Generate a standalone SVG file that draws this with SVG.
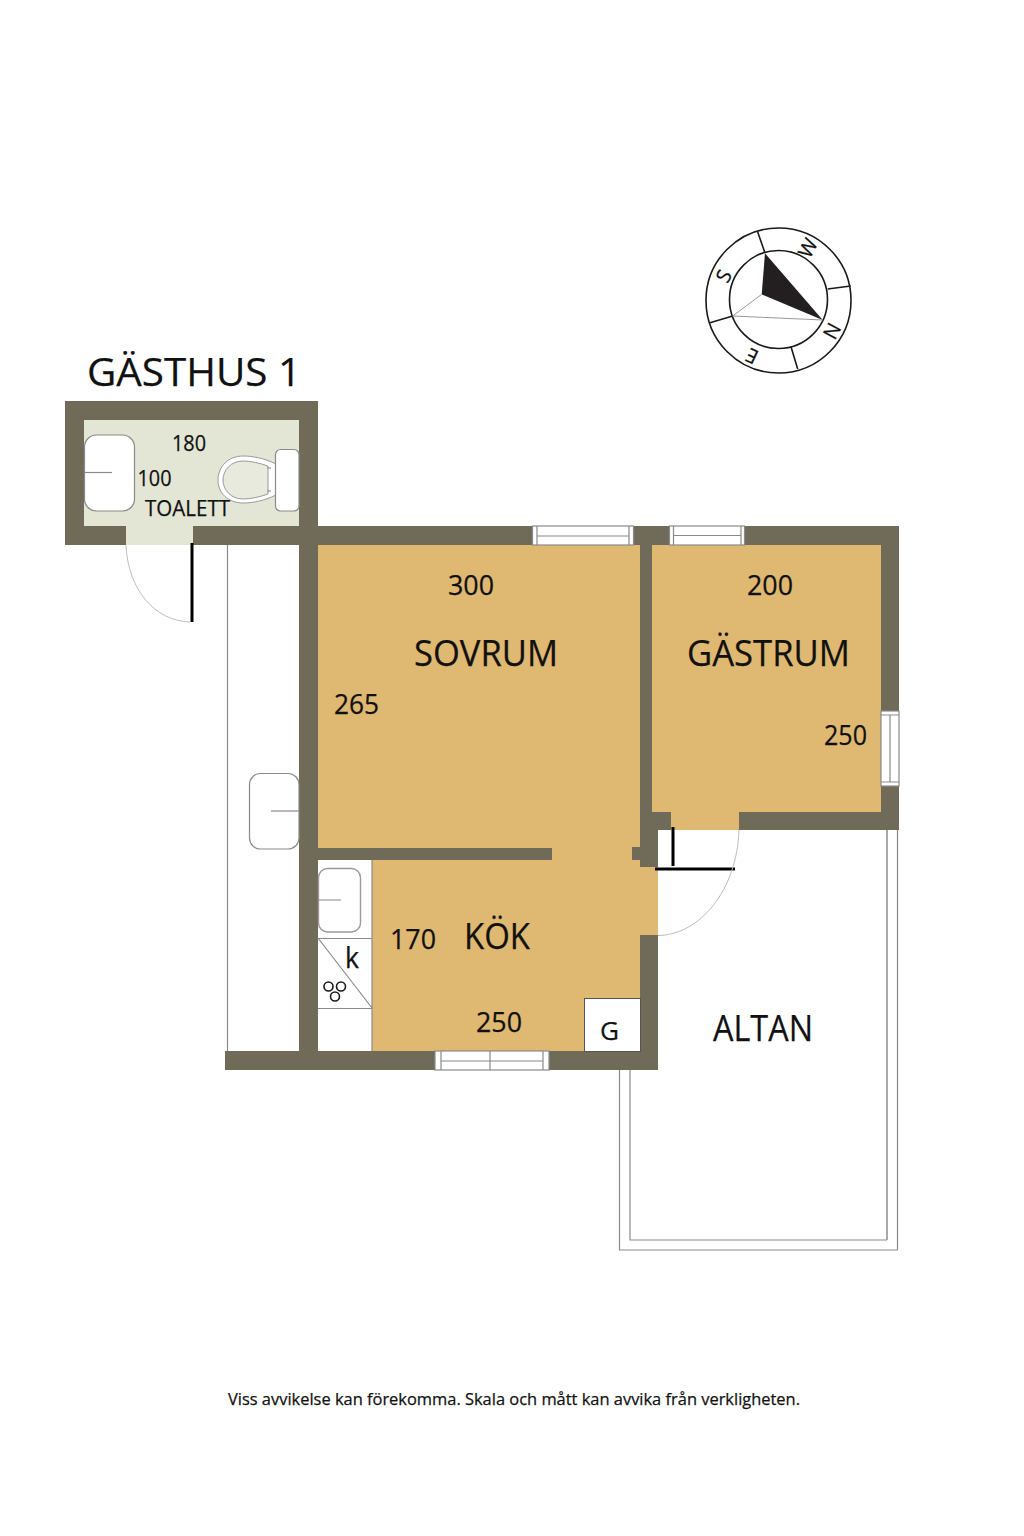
<svg xmlns="http://www.w3.org/2000/svg" width="1024" height="1536" viewBox="0 0 1024 1536">
<style>
text{font-family:"Open Sans","Noto Sans","Liberation Sans",sans-serif;fill:#111;stroke:#111;stroke-width:.25}
.w{fill:#6f6b58}
.f{fill:#dfb872}
.l{fill:none;stroke:#8a8a8a;stroke-width:1.2}
.o{fill:#fff;stroke:#8a8a8a;stroke-width:1.2}
.d{fill:none;stroke:#000;stroke-width:3}
.a{fill:none;stroke:#bdbdbd;stroke-width:1}
.c{fill:none;stroke:#1a1a1a;stroke-width:1.6}
</style>
<rect width="1024" height="1536" fill="#fff"/>
<g id="floors">
<rect x="84" y="420" width="215" height="106" fill="#e3e5d5"/>
<rect x="126" y="526" width="67" height="19" fill="#e3e5d5"/>
<rect x="318" y="545" width="322" height="315" class="f"/>
<rect x="372" y="860" width="268" height="191" class="f"/>
<rect x="640" y="867" width="18" height="68" class="f"/>
<rect x="652" y="545" width="229" height="267" class="f"/>
<rect x="671" y="812" width="68" height="18" class="f"/>
<rect x="318" y="860" width="54" height="191" fill="#fff"/>
</g>
<g id="walls">
<path class="w" d="M65 401H318V526H899V830H739V812H881V545H652V812H671V830H658V867H640V860H632V847H640V545H318V1051H640V935H658V1070H225V1051H299V545H193V526H299V420H84V526H126V545H65Z"/>
<rect x="318" y="848" width="234" height="12" class="w"/>
</g>
<g id="windows">
<rect x="532.500" y="526" width="101" height="19" class="o"/>
<path class="l" d="M537 526V545M629 526V545M537 536H629"/>
<rect x="669.500" y="526" width="75" height="19" class="o"/>
<path class="l" d="M673.500 526V545M741 526V545M673.500 535.500H741"/>
<rect x="881" y="711" width="18" height="75" class="o"/>
<path class="l" d="M881 715H899M881 782H899M890 715V782" />
<rect x="435" y="1051" width="114" height="19" class="o"/>
<path class="l" d="M441 1051V1070M490 1051V1070M543 1051V1070M441 1061H543"/>
</g>
<g id="fixtures">
<rect x="84.500" y="435" width="50" height="76" rx="12" class="o"/>
<path class="l" d="M85 472.500H112"/>
<path d="M276 464C264 458 252 456 243 456C228 456 218 467 218 480C218 493 228 503 243 503C252 503 264 501 276 495Z" fill="#fff" stroke="#9a9a9a"/>
<path d="M268 466C260 463 250 461 243 461C231 461 223 470 223 480C223 490 231 499 243 499C250 499 260 497 268 494Z" fill="#e9eade" stroke="#9a9a9a"/>
<path class="l" d="M267 468H271M267 491H271"/>
<rect x="275.500" y="449.500" width="23.500" height="61.500" rx="5" class="o"/>
<rect x="249.500" y="773.500" width="49.500" height="75.500" rx="11" class="o"/>
<path class="l" d="M271 811H299"/>
<rect x="318.500" y="868.500" width="42" height="63.500" rx="9" fill="#fff" stroke="#9a9a9a" stroke-width="1.400"/>
<path class="l" d="M318 900H341M318 938.500H372M318 1008.500H372M318 938L372 1008M372 860V1051"/>
<g class="c"><circle cx="328.500" cy="986.500" r="4.500"/><circle cx="341" cy="986.500" r="4.500"/><circle cx="335" cy="996.500" r="4.500"/></g>
<rect x="584.500" y="998.500" width="56" height="53" fill="#fff" stroke="#555"/>
</g>
<g id="doors">
<path class="d" d="M192 543V622M673 827V866M655 869H735"/>
<path class="a" d="M126 545C128 590 155 621 190 622M658 935.500C700 935 737 890 739 830"/>
</g>
<g id="altan">
<path class="l" d="M897.500 830V1250H619.500V1070M630 1070V1240H887"/>
<path d="M887 830V1240" fill="none" stroke="#a0a0a0" stroke-width="1.800"/>
<path class="l" d="M227.500 545V1051"/>
</g>
<g id="compass">
<g fill="none" stroke="#1a1a1a" stroke-width="1.600">
<circle cx="778.500" cy="300.500" r="72.500"/>
<circle cx="778.500" cy="299.500" r="49"/>
<path d="M757.700 232L765 253M827.700 289L850.700 286M791 346.700L797.700 369M710 322.700L732.700 316"/>
</g>
<polygon points="765,253.300 822.700,320 761.700,294.300" fill="#231f20"/>
<path d="M761.700 294.300L732.700 316L822.700 320" fill="none" stroke="#999" stroke-width="1"/>
<text transform="translate(808 248) rotate(-62)" font-size="20" text-anchor="middle" dy="7">W</text>
<text transform="translate(832 331) rotate(-62)" font-size="20" text-anchor="middle" dy="7">N</text>
<text transform="translate(752 356) rotate(205)" font-size="20" text-anchor="middle" dy="7">E</text>
<text transform="translate(724 276) rotate(-62)" font-size="20" text-anchor="middle" dy="7">S</text>
</g>
<g id="labels">
<text x="87" y="386" font-size="39" textLength="214" lengthAdjust="spacingAndGlyphs">GÄSTHUS 1</text>
<text x="172" y="451" font-size="21.500" textLength="34" lengthAdjust="spacingAndGlyphs">180</text>
<text x="137.500" y="486" font-size="21.500" textLength="34" lengthAdjust="spacingAndGlyphs">100</text>
<text x="145" y="516" font-size="21.500" textLength="85" lengthAdjust="spacingAndGlyphs">TOALETT</text>
<text x="448" y="595" font-size="27" textLength="46" lengthAdjust="spacingAndGlyphs">300</text>
<text x="747" y="595" font-size="27" textLength="46" lengthAdjust="spacingAndGlyphs">200</text>
<text x="414" y="666" font-size="37" textLength="144" lengthAdjust="spacingAndGlyphs">SOVRUM</text>
<text x="687" y="666" font-size="37" textLength="163" lengthAdjust="spacingAndGlyphs">GÄSTRUM</text>
<text x="334" y="714" font-size="27" textLength="45" lengthAdjust="spacingAndGlyphs">265</text>
<text x="824" y="745" font-size="27" textLength="43" lengthAdjust="spacingAndGlyphs">250</text>
<text x="390" y="949" font-size="27" textLength="46" lengthAdjust="spacingAndGlyphs">170</text>
<text x="464" y="949" font-size="36" textLength="66" lengthAdjust="spacingAndGlyphs">KÖK</text>
<text x="476" y="1032" font-size="27" textLength="46" lengthAdjust="spacingAndGlyphs">250</text>
<text x="600" y="1040" font-size="26" textLength="19" lengthAdjust="spacingAndGlyphs">G</text>
<text x="345" y="968" font-size="29" textLength="14" lengthAdjust="spacingAndGlyphs" stroke-width=".6">k</text>
<text x="713" y="1041" font-size="36" textLength="100" lengthAdjust="spacingAndGlyphs">ALTAN</text>
<text x="228" y="1405" font-size="17" textLength="572" lengthAdjust="spacingAndGlyphs">Viss avvikelse kan förekomma. Skala och mått kan avvika från verkligheten.</text>
</g>
</svg>
